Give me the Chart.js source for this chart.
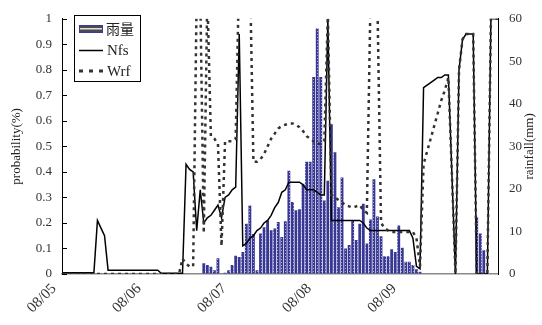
<!DOCTYPE html>
<html>
<head>
<meta charset="utf-8">
<script src="https://cdn.jsdelivr.net/npm/chart.js@4"></script>
<style>
  html, body { margin: 0; padding: 0; background: #fff; }
  #wrap { width: 542px; height: 325px; }
</style>
</head>
<body>
<div id="wrap"><canvas id="chart"></canvas></div>
<script>
// hourly values, index = hours since 08/05 00:00
const dayLabels = ['08/05', '08/06', '08/07', '08/08', '08/09'];
const seriesNames = ['雨量', 'Nfs', 'Wrf'];

// rainfall (mm), right axis
const rain = [
  0, 0, 0, 0, 0, 0, 0, 0, 0, 0, 0, 0,
  0, 0, 0, 0, 0, 0, 0, 0, 0, 0, 0, 0,
  0, 0, 0, 0, 0, 0, 0, 0, 0, 0, 0, 0,
  0, 0, 0, 0, 2.5, 2.1, 1.7, 0.9, 3.7, 0, 0.3, 0.9,
  2.1, 4.3, 4.0, 5.2, 11.8, 16.1, 9.4, 0.9, 9.5, 11.0, 12.6, 10.3,
  10.7, 12.2, 8.7, 12.4, 24.3, 16.9, 15.0, 15.2, 21.2, 26.4, 26.4, 46.3,
  57.7, 46.3, 17.3, 21.9, 35.2, 28.6, 15.7, 22.7, 6.0, 6.8, 12.6, 8.0,
  11.8, 16.5, 7.2, 12.8, 22.3, 13.5, 8.9, 4.2, 4.2, 5.8, 5.2, 11.4,
  6.2, 2.9, 2.9, 2.1, 1.1, 0.5, 0, 0, 0, 0, 0, 0,
  0, 0, 0, 0, 0, 0, 0, 0, 0, 13.4, 9.5, 5.6,
  0, 0, 0, 0
];

// Nfs probability, left axis
const nfs = [
  0.005, 0.005, 0.005, 0.005, 0.005, 0.005, 0.005, 0.005, 0.005, 0.005, 0.21, 0.18,
  0.15, 0.015, 0.015, 0.015, 0.015, 0.015, 0.015, 0.015, 0.015, 0.015, 0.015, 0.015,
  0.015, 0.015, 0.015, 0.015, 0.003, 0.003, 0.003, 0.003, 0.003, 0.003, 0.003, 0.43,
  0.41, 0.40, 0.17, 0.33, 0.20, 0.22, 0.23, 0.25, 0.27, 0.22, 0.30, 0.31,
  0.33, 0.34, 0.94, 0.11, 0.12, 0.14, 0.15, 0.17, 0.18, 0.20, 0.21, 0.23,
  0.26, 0.28, 0.32, 0.33, 0.36, 0.36, 0.36, 0.36, 0.35, 0.33, 0.33, 0.33,
  0.32, 0.31, 0.31, 1.0, 0.21, 0.21, 0.21, 0.21, 0.21, 0.21, 0.21, 0.21,
  0.21, 0.20, 0.18, 0.17, 0.17, 0.17, 0.17, 0.17, 0.17, 0.17, 0.17, 0.17,
  0.17, 0.17, 0.17, 0.14, 0.03, 0.02, 0.73, 0.74, 0.75, 0.76, 0.77, 0.77,
  0.78, 0.78, 0.39, 0, 0.80, 0.92, 0.94, 0.94, 0.94, 0, 0, 0,
  0, 1, 1, 1
];

// Wrf probability, left axis (values above 1 run off the top)
const wrf = [
  0, 0, 0, 0, 0, 0, 0, 0, 0, 0, 0, 0,
  0, 0, 0, 0, 0, 0, 0, 0, 0, 0, 0, 0,
  0, 0, 0, 0, 0, 0, 0, 0, 0, 0, 0.06, 0.04,
  0.03, 0.03, 1.1, 1.1, 0.16, 1.1, 0.54, 0.53, 0.51, 0.11, 0.52, 0.52,
  0.52, 0.53, 1.2, 1.2, 1.2, 1.2, 0.44, 0.44, 0.45, 0.47, 0.50, 0.53,
  0.55, 0.57, 0.58, 0.585, 0.59, 0.59, 0.585, 0.575, 0.56, 0.54, 0.53, 0.52,
  0.51, 0.51, 0.52, 1.02, 0.31, 0.30, 0.29, 0.28, 0.27, 0.265, 0.26, 0.265,
  0.27, 0.25, 0.24, 1.05, 1.05, 1.05, 0.20, 0.18, 0.17, 0.165, 0.165, 0.165,
  0.165, 0.165, 0.165, 0.165, 0.14, 0.03, 0.43, 0.48, 0.53, 0.58, 0.63, 0.68,
  0.72, 0.77, 0.39, 0, 0.80, 0.92, 0.94, 0.94, 0.94, 0, 0, 0,
  0, 1, 1, 1
];

const hours = rain.map((_, i) => i);
const serif = "'Liberation Serif', 'Times New Roman', serif";

// navy bars with a light speckle, like the original fill
function barPattern() {
  const c = document.createElement('canvas');
  c.width = 4; c.height = 3;
  const g = c.getContext('2d');
  g.fillStyle = '#383894';
  g.fillRect(0, 0, 4, 3);
  g.fillStyle = '#a9a9d8';
  g.fillRect(1, 1, 1, 1);
  return g.createPattern(c, 'repeat');
}

const decor = {
  id: 'decor',
  afterDraw(chart) {
    const ctx = chart.ctx;
    const area = chart.chartArea;
    const y = chart.scales.y;
    ctx.save();

    // inner tick marks on the left axis
    ctx.strokeStyle = '#000';
    ctx.lineWidth = 1;
    y.ticks.forEach(t => {
      const py = Math.round(y.getPixelForValue(t.value)) + 0.5;
      ctx.beginPath();
      ctx.moveTo(area.left, py);
      ctx.lineTo(area.left + 5, py);
      ctx.stroke();
    });

    // axis titles
    ctx.fillStyle = '#222';
    ctx.font = '13px ' + serif;
    ctx.textAlign = 'center';
    ctx.textBaseline = 'middle';
    const midY = (area.top + area.bottom) / 2;
    [[17, 'probability(%)'], [530, 'rainfall(mm)']].forEach(([tx, txt]) => {
      ctx.save();
      ctx.translate(tx, midY);
      ctx.rotate(-Math.PI / 2);
      ctx.fillText(txt, 0, 0);
      ctx.restore();
    });

    // legend box
    const lx = 74.5, ly = 15.5;
    ctx.fillStyle = '#fff';
    ctx.fillRect(lx, ly, 66, 66);
    ctx.strokeStyle = '#000';
    ctx.lineWidth = 1;
    ctx.strokeRect(lx, ly, 66, 66);

    ctx.fillStyle = '#3a3a9a';
    ctx.fillRect(79, 25, 24, 8);
    ctx.fillStyle = '#4a4a55';
    ctx.fillRect(80, 26, 22, 6);
    ctx.fillStyle = '#e0e0e0';
    ctx.fillRect(80, 28, 22, 1.5);

    ctx.beginPath();
    ctx.strokeStyle = '#000';
    ctx.lineWidth = 1.5;
    ctx.moveTo(79, 50.5);
    ctx.lineTo(103, 50.5);
    ctx.stroke();

    ctx.beginPath();
    ctx.strokeStyle = '#333';
    ctx.lineWidth = 3;
    ctx.setLineDash([4, 6]);
    ctx.moveTo(79, 71);
    ctx.lineTo(103, 71);
    ctx.stroke();
    ctx.setLineDash([]);

    ctx.fillStyle = '#222';
    ctx.textAlign = 'left';
    ctx.font = "14px 'Noto Sans CJK TC', sans-serif";
    ctx.fillText(seriesNames[0], 106, 29);
    ctx.font = '15px ' + serif;
    ctx.fillText(seriesNames[1], 107, 51);
    ctx.fillText(seriesNames[2], 107, 72);
    ctx.restore();
  }
};

new Chart(document.getElementById('chart'), {
  data: {
    labels: hours,
    datasets: [
      {
        type: 'line',
        label: seriesNames[2],
        data: wrf,
        yAxisID: 'y',
        borderColor: '#333',
        borderWidth: 2.5,
        borderDash: [3, 4],
        pointRadius: 0,
        tension: 0,
        order: 1
      },
      {
        type: 'line',
        label: seriesNames[1],
        data: nfs,
        yAxisID: 'y',
        borderColor: '#000',
        borderWidth: 1.5,
        pointRadius: 0,
        tension: 0,
        order: 2
      },
      {
        type: 'bar',
        label: seriesNames[0],
        data: rain,
        yAxisID: 'y2',
        backgroundColor: barPattern(),
        borderWidth: 0,
        categoryPercentage: 0.8,
        barPercentage: 1,
        order: 3
      }
    ]
  },
  options: {
    responsive: true,
    maintainAspectRatio: false,
    animation: false,
    devicePixelRatio: 1,
    layout: { padding: { top: 17, left: 0, right: 0, bottom: 0 } },
    plugins: {
      legend: { display: false },
      tooltip: { enabled: false }
    },
    scales: {
      x: {
        type: 'category',
        offset: false,
        grid: { display: true, drawOnChartArea: false, drawTicks: false },
        border: { display: true, color: '#8a8a8a', width: 1.5 },
        ticks: {
          autoSkip: false,
          maxRotation: 45,
          minRotation: 45,
          padding: 6,
          labelOffset: -8,
          color: '#333',
          font: { family: serif, size: 15 },
          callback: (v, i) => (i % 24 === 0 ? dayLabels[i / 24] : null)
        },
        afterFit: s => { s.height = 51; }
      },
      y: {
        position: 'left',
        min: 0,
        max: 1,
        grid: { display: true, drawOnChartArea: false, drawTicks: false },
        border: { display: true, color: '#000', width: 1 },
        ticks: {
          stepSize: 0.1,
          padding: 10,
          color: '#333',
          font: { family: serif, size: 13 },
          callback: v => String(Math.round(v * 10) / 10)
        },
        afterFit: s => { s.width = 62; }
      },
      y2: {
        position: 'right',
        min: 0,
        max: 60,
        grid: { display: true, drawOnChartArea: false, drawTicks: false },
        border: { display: true, color: '#000', width: 1 },
        ticks: {
          stepSize: 10,
          padding: 11,
          color: '#333',
          font: { family: serif, size: 13 }
        },
        afterFit: s => { s.width = 44; }
      }
    }
  },
  plugins: [decor]
});
</script>
</body>
</html>
